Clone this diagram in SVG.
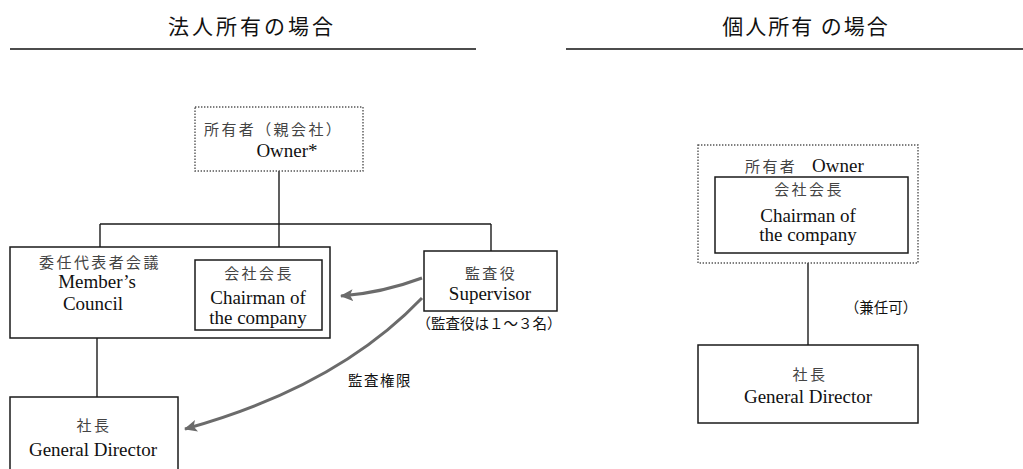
<svg xmlns="http://www.w3.org/2000/svg" width="1023" height="469" viewBox="0 0 1023 469">
<defs>
<style>
.title{font-family:"Noto Sans CJK JP","Noto Sans",sans-serif;font-size:21px;fill:#111;text-anchor:middle;letter-spacing:3px}
.rule{stroke:#111;stroke-width:1.6;fill:none}
.box{fill:#fff;stroke:#1a1a1a;stroke-width:1.5}
.dot{fill:#fff;stroke:#555;stroke-width:1.4;stroke-dasharray:1.4 1.6}
.jp{font-family:"Noto Sans CJK JP",sans-serif;font-size:15px;fill:#444;letter-spacing:2.4px}
.en{font-family:"Liberation Serif","Times New Roman",serif;font-size:19px;fill:#111}
.c{text-anchor:middle}
.note{font-family:"Noto Sans CJK JP",sans-serif;font-size:14.5px;fill:#111;font-weight:normal}
.ln{stroke:#1a1a1a;stroke-width:1.4;fill:none}
.arr{stroke:#6b6b6b;stroke-width:3;fill:none;marker-end:url(#ah)}
</style>
<marker id="ah" markerUnits="userSpaceOnUse" markerWidth="14" markerHeight="12" refX="12" refY="6" orient="auto">
<path d="M0,0 L13,6 L0,12 L3,6 Z" fill="#6b6b6b"/>
</marker>
</defs>

<g id="headings">
<text class="title" x="252" y="34">法人所有の場合</text>
<line class="rule" x1="10" y1="49" x2="476" y2="49"/>
<text class="title" x="806" y="34" style="letter-spacing:2px">個人所有 の場合</text>
<line class="rule" x1="566" y1="49" x2="1023" y2="49"/>
</g>

<g id="connectors">
<line class="ln" x1="279" y1="171" x2="279" y2="224"/>
<line class="ln" x1="100" y1="224" x2="491" y2="224"/>
<line class="ln" x1="100" y1="224" x2="100" y2="247"/>
<line class="ln" x1="279" y1="224" x2="279" y2="260"/>
<line class="ln" x1="491" y1="224" x2="491" y2="251"/>
<line class="ln" x1="97" y1="338" x2="97" y2="397"/>
<line class="ln" x1="808" y1="263" x2="808" y2="345"/>
<path class="arr" d="M422,278 Q382,293 341,296"/>
<path class="arr" d="M422,298 Q337,387 185,429"/>
<text class="note" x="380" y="386" style="letter-spacing:1.5px" text-anchor="middle">監査権限</text>
<text class="note" x="881" y="313" text-anchor="middle">（兼任可）</text>
</g>

<g id="owner-corp">
<rect class="dot" x="195" y="107" width="168" height="64"/>
<text class="jp" x="204" y="135">所有者（親会社）</text>
<text class="en c" x="287" y="157">Owner*</text>
</g>

<g id="members-council">
<rect class="box" x="10" y="247" width="320" height="91"/>
<text class="jp c" x="100" y="268">委任代表者会議</text>
<text class="en c" x="97" y="288">Member’s</text>
<text class="en c" x="93" y="310">Council</text>
</g>

<g id="chairman-corp">
<rect class="box" x="195" y="260" width="127" height="70"/>
<text class="jp c" x="259" y="279">会社会長</text>
<text class="en c" x="258" y="304">Chairman of</text>
<text class="en c" x="258" y="324">the company</text>
</g>

<g id="supervisor">
<rect class="box" x="424" y="251" width="133" height="60"/>
<text class="jp c" x="491" y="279">監査役</text>
<text class="en c" x="490" y="300">Supervisor</text>
<text class="note" x="489" y="329" text-anchor="middle">（監査役は１～３名）</text>
</g>

<g id="gd-corp">
<rect class="box" x="10" y="397" width="168" height="80"/>
<text class="jp c" x="94" y="431">社長</text>
<text class="en c" x="93" y="456">General Director</text>
</g>

<g id="owner-personal">
<rect class="dot" x="698" y="145" width="220" height="118"/>
<text class="jp" x="745" y="172">所有者</text>
<text class="en" x="812" y="172">Owner</text>
</g>

<g id="chairman-personal">
<rect class="box" x="715" y="177" width="193" height="76"/>
<text class="jp c" x="809" y="195">会社会長</text>
<text class="en c" x="808" y="222">Chairman of</text>
<text class="en c" x="808" y="241">the company</text>
</g>

<g id="gd-personal">
<rect class="box" x="698" y="345" width="220" height="78"/>
<text class="jp c" x="810" y="380">社長</text>
<text class="en c" x="808" y="403">General Director</text>
</g>
</svg>
